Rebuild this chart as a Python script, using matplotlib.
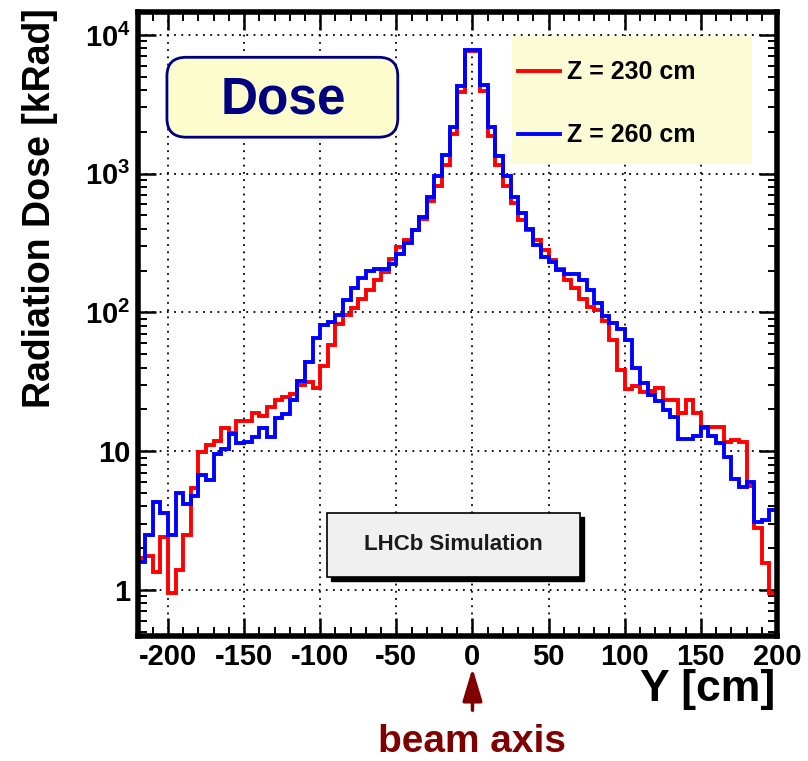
import numpy as np
import matplotlib.pyplot as plt
from matplotlib.patches import FancyBboxPatch, Rectangle
from matplotlib.lines import Line2D
from matplotlib.ticker import MultipleLocator, LogLocator, FuncFormatter, NullFormatter

plt.rcParams['font.family'] = ['Liberation Sans', 'DejaVu Sans']
plt.rcParams['font.weight'] = 'bold'
plt.rcParams['axes.labelweight'] = 'bold'
plt.rcParams['axes.unicode_minus'] = False
plt.rcParams['mathtext.fontset'] = 'custom'
plt.rcParams['mathtext.rm'] = 'Liberation Sans:bold'
plt.rcParams['mathtext.bf'] = 'Liberation Sans:bold'

# histogram binning (cm)
y_lo, y_hi, bin_w = -220, 200, 5

# dose per bin [kRad]
dose_230 = [1.7, 1.75, 1.35, 2.4, 0.95, 1.4, 2.5, 5.4, 9.9, 11.0,
            11.8, 14.8, 13.5, 16.4, 16.5, 19.0, 18.0, 20.7, 23.5, 24.5,
            25.8, 30, 31.7, 28.4, 41, 58, 83, 96, 107, 126,
            145, 171, 195, 242, 294, 333, 390, 470, 632, 815,
            1160, 1930, 3870, 7600, 7600, 3950, 1870, 1156, 815, 612,
            464, 390, 333, 282, 239, 206, 172, 150, 125, 110,
            104, 87, 63, 38.5, 28, 29.5, 26.5, 27, 28.5, 23.4,
            23.4, 18.8, 23.4, 18.8, 14.6, 15, 15, 11.7, 12, 11.7,
            5.6, 2.8, 1.56, 0.95]
dose_260 = [1.6, 2.5, 4.3, 3.6, 2.5, 5.0, 4.15, 4.75, 6.7, 6.2,
            9.6, 10.3, 13.2, 11.5, 11.7, 12.7, 14.7, 12.7, 17.3, 18.5,
            23.4, 32, 44, 65, 81, 86, 96, 122, 149, 178,
            200, 204, 205, 224, 263, 315, 393, 490, 683, 965,
            1364, 2185, 4300, 7750, 7750, 4363, 2160, 1343, 964, 675,
            519, 398, 306, 250, 232, 203, 189, 189, 171, 145,
            117, 95, 83.6, 75.7, 63.4, 39.6, 31, 25.5, 23, 19.8,
            17.7, 12.2, 12.2, 12.9, 14.9, 12.8, 11.4, 9.1, 6.3, 5.5,
            6.0, 3.1, 3.2, 3.8]
labels = ['Z = 230 cm', 'Z = 260 cm']
colors = ['#ff0000', '#0000ff']

edges = np.arange(y_lo, y_hi + bin_w, bin_w)

fig = plt.figure(figsize=(8.08, 7.61), dpi=100)
ax = fig.add_axes([0.1702, 0.1643, 0.7914, 0.8203])

for vals, c in zip([dose_230, dose_260], colors):
    ax.stairs(vals, edges, baseline=1e-3, color=c, lw=2.8)

ax.set_yscale('log')
ax.set_xlim(-220, 200)
ax.set_ylim(0.466, 1.47e4)

ax.xaxis.set_major_locator(MultipleLocator(50))
ax.xaxis.set_minor_locator(MultipleLocator(10))
ax.yaxis.set_major_locator(LogLocator(base=10, numticks=10))
ax.yaxis.set_minor_locator(LogLocator(base=10, subs=np.arange(2, 10), numticks=10))
ax.yaxis.set_minor_formatter(NullFormatter())


def ylab(v, pos):
    if v == 1:
        return '1'
    if v == 10:
        return '10'
    return r'$\mathbf{10^{%d}}$' % round(np.log10(v))


ax.yaxis.set_major_formatter(FuncFormatter(ylab))

ax.tick_params(which='both', direction='in', top=True, right=True)
ax.tick_params(which='major', length=13, width=1.8, labelsize=21, pad=5)
ax.tick_params(which='minor', length=6.5, width=1.4)
for s in ax.spines.values():
    s.set_linewidth(4)

ax.set_axisbelow(True)
ax.grid(True, which='major', color='black', linestyle=(0, (1, 3)), linewidth=1.3)

ax.set_ylabel('Radiation Dose [kRad]', fontsize=27, fontweight='bold', va='center')
ax.yaxis.set_label_coords(-0.1525, 0.685)
ax.set_xlabel('Y [cm]', fontsize=32, fontweight='bold', ha='right', va='center')
ax.xaxis.set_label_coords(0.997, -0.0865)

# "Dose" box
ax.add_patch(FancyBboxPatch((0.046, 0.799), 0.361, 0.128, transform=ax.transAxes,
                            boxstyle='round,pad=0,rounding_size=0.03',
                            fc='#fdfccc', ec='#000080', lw=2, zorder=5))
ax.text(0.2275, 0.8586, 'Dose', transform=ax.transAxes, fontsize=37,
        color='#000080', ha='center', va='center', zorder=6)

# legend
ax.add_patch(Rectangle((0.5856, 0.756), 0.3754, 0.205, transform=ax.transAxes,
                       fc='#fbfbd5', ec='none', zorder=5))
handles = [Line2D([], [], color=c, lw=2.8) for c in colors]
leg = ax.legend(handles, labels, loc='upper left', bbox_to_anchor=(0.595, 0.922),
                frameon=False, fontsize=18, borderpad=0, borderaxespad=0,
                handlelength=1.68, handletextpad=0.28, labelspacing=1.56)
leg.set_zorder(6)

# LHCb Simulation box with shadow
ax.add_patch(Rectangle((0.2963 + 0.007, 0.0945 - 0.007), 0.3957, 0.1025,
                       transform=ax.transAxes, fc='black', ec='black', zorder=5))
ax.add_patch(Rectangle((0.2963, 0.0945), 0.3957, 0.1025, transform=ax.transAxes,
                       fc='#f0f0f0', ec='black', lw=1.2, zorder=5))
ax.text(0.4934, 0.1458, 'LHCb Simulation', transform=ax.transAxes, fontsize=16,
        color='#1a1a1a', ha='center', va='center', zorder=6)

# beam axis marker
tr = ax.get_xaxis_transform()
ax.annotate('', xy=(0, -0.0513), xytext=(0, -0.119), xycoords=tr, textcoords=tr,
            arrowprops=dict(arrowstyle='-|>,head_width=0.3,head_length=1.0',
                            mutation_scale=20, lw=2.5, color='#800000',
                            shrinkA=0, shrinkB=0),
            annotation_clip=False)
ax.text(0, -0.170, 'beam axis', transform=tr, fontsize=28, color='#800000',
        ha='center', va='center')

fig.savefig('out.png', dpi=100)
